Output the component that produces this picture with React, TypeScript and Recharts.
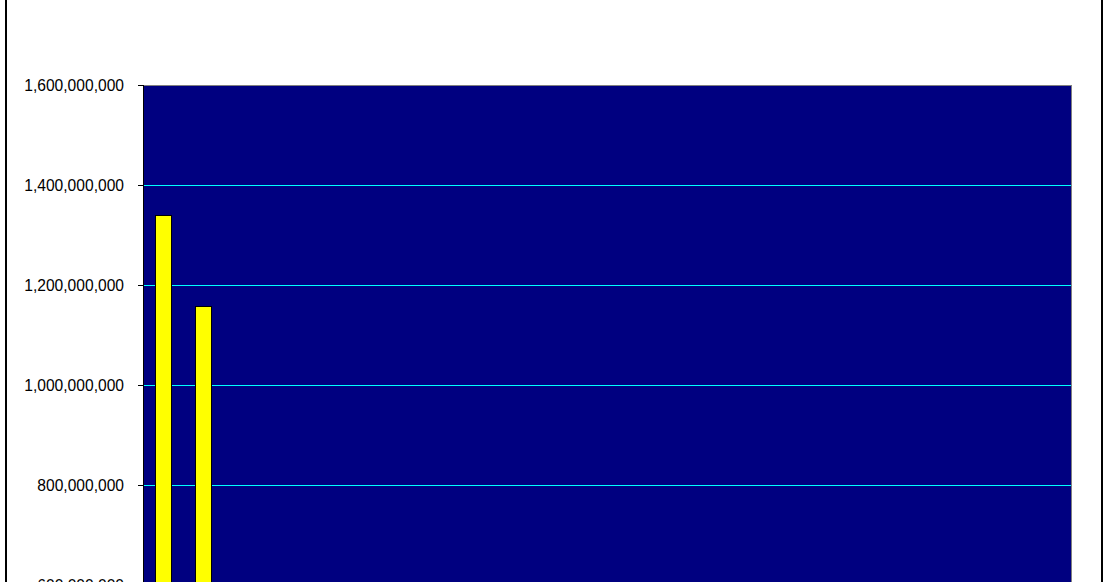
import { BarChart, Bar, XAxis, YAxis, CartesianGrid, ReferenceArea } from "recharts";

// categories below the visible crop are unknown, only the first two bars show
const categories = [
  "1", "2", "3", "4", "5", "6", "7", "8", "9", "10", "11", "12",
  "13", "14", "15", "16", "17", "18", "19", "20", "21", "22", "23",
];
const values: (number | null)[] = [
  1339000000, 1157000000, null, null, null, null, null, null, null, null, null, null,
  null, null, null, null, null, null, null, null, null, null, null,
];
const yTicks = [0, 200000000, 400000000, 600000000, 800000000, 1000000000, 1200000000, 1400000000, 1600000000];

const data = categories.map((name, i) => ({ name, value: values[i] }));

const fmt = (v: number) => v.toLocaleString("en-US");
const tickFont = { fill: "#000", fontSize: 15.6, fontFamily: "Liberation Sans, Arial, sans-serif" };

export default function App() {
  return (
    <div style={{ position: "fixed", left: 0, top: 0, width: 1109, height: 582, overflow: "hidden", background: "#fff" }}>
      <div
        style={{
          position: "absolute",
          left: 5,
          top: -4,
          width: 1098,
          height: 1000,
          border: "2px solid #000",
          boxSizing: "border-box",
        }}
      />
      <div style={{ position: "absolute", left: 0, top: 0 }}>
        <BarChart
          width={1109}
          height={960}
          data={data}
          margin={{ top: 85, right: 38, bottom: 45, left: 0 }}
          barCategoryGap="30%"
        >
          <CartesianGrid
            vertical={false}
            stroke="#00FFFF"
            strokeOpacity={1}
            fill="#000080"
            fillOpacity={1}
            shapeRendering="crispEdges"
          />
          <ReferenceArea y1={0} y2={1600000000} fill="none" stroke="#808080" strokeWidth={1} shapeRendering="crispEdges" />
          <XAxis dataKey="name" height={30} tickLine={false} axisLine={{ stroke: "#000" }} tick={tickFont} />
          <YAxis
            width={143}
            domain={[0, 1600000000]}
            ticks={yTicks}
            tickFormatter={fmt}
            tickSize={5}
            tickMargin={14}
            axisLine={{ stroke: "#000", shapeRendering: "crispEdges" }}
            tickLine={{ stroke: "#000", shapeRendering: "crispEdges" }}
            tick={tickFont}
          />
          <Bar dataKey="value" fill="#FFFF00" stroke="#000" strokeWidth={1} shapeRendering="crispEdges" isAnimationActive={false} />
        </BarChart>
      </div>
    </div>
  );
}
